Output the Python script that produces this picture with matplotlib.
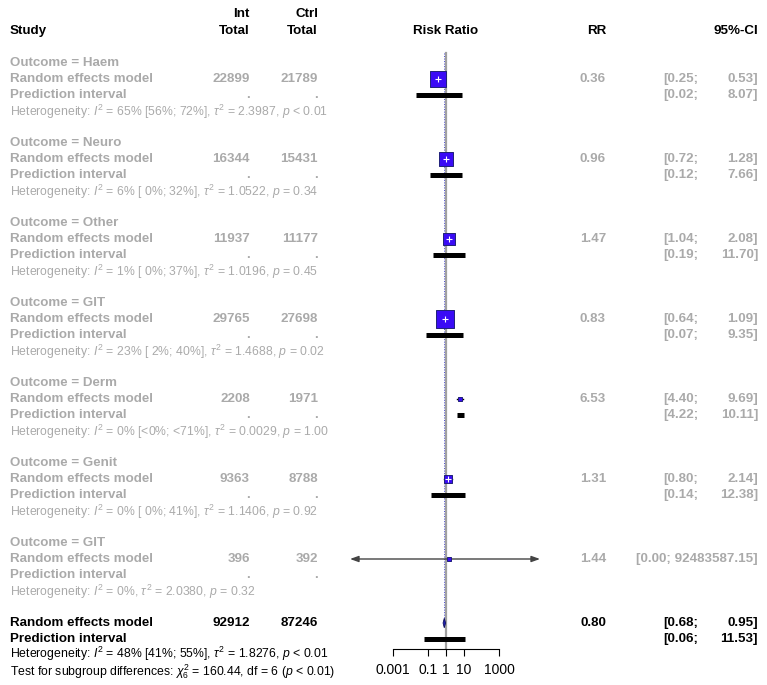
import matplotlib
matplotlib.use("Agg")
import matplotlib.pyplot as plt
import matplotlib.transforms as mtransforms
import numpy as np

plt.rcParams['font.family'] = ['Liberation Sans', 'DejaVu Sans']
plt.rcParams['mathtext.fontset'] = 'custom'
plt.rcParams['mathtext.rm'] = 'Liberation Sans'
plt.rcParams['mathtext.it'] = 'Liberation Sans:italic'
plt.rcParams['mathtext.bf'] = 'Liberation Sans:bold'

# ---------------- data ----------------
outcomes = ['Haem', 'Neuro', 'Other', 'GIT', 'Derm', 'Genit', 'GIT']
int_total = [22899, 16344, 11937, 29765, 2208, 9363, 396]
ctrl_total = [21789, 15431, 11177, 27698, 1971, 8788, 392]
rr = [0.36, 0.96, 1.47, 0.83, 6.53, 1.31, 1.44]
ci_lo = [0.25, 0.72, 1.04, 0.64, 4.40, 0.80, 0.00]
ci_hi = [0.53, 1.28, 2.08, 1.09, 9.69, 2.14, 92483587.15]
pi_lo = [0.02, 0.12, 0.19, 0.07, 4.22, 0.14, None]
pi_hi = [8.07, 7.66, 11.70, 9.35, 10.11, 12.38, None]
weights = [25.0, 19.1, 14.1, 31.6, 1.6, 7.9, 0.9]   # estimated subgroup weights (%)
i2 = ['65%', '6%', '1%', '23%', '0%', '0%', '0%']
i2_ci = ['[56%; 72%]', '[ 0%; 32%]', '[ 0%; 37%]', '[ 2%; 40%]', '[<0%; <71%]', '[ 0%; 41%]', None]
tau2 = ['2.3987', '1.0522', '1.0196', '1.4688', '0.0029', '1.1406', '2.0380']
pval = ['< 0.01', '= 0.34', '= 0.45', '= 0.02', '= 1.00', '= 0.92', '= 0.32']

overall_int = 92912
overall_ctrl = 87246
overall_rr = 0.80
overall_ci = (0.68, 0.95)
overall_pi = (0.06, 11.53)
overall_het = ('48%', '[41%; 55%]', '1.8276', '< 0.01')
subgroup_test = ('6', '160.44', '6', '< 0.01')

tick_vals = [0.001, 0.1, 1, 10, 1000]
tick_labels = ['0.001', '0.1', '1', '10', '1000']

# ---------------- layout ----------------
W, H = 767, 685
fig = plt.figure(figsize=(W / 100, H / 100), dpi=100)

ppd = 17.67          # pixels per decade
x_one = 446.0        # pixel of RR = 1
ax_l, ax_r = 350.0, 540.0
ax_bottom_px = 649.0
row0_px, row_h = 31.0, 16.0

def prow(py):
    return (py - row0_px) / row_h

ax = fig.add_axes([ax_l / W, 1 - ax_bottom_px / H, (ax_r - ax_l) / W, ax_bottom_px / H])
ax.set_xscale('log')
xlo = 10 ** ((ax_l - x_one) / ppd)
xhi = 10 ** ((ax_r - x_one) / ppd)
ax.set_xlim(xlo, xhi)
ax.set_ylim(prow(ax_bottom_px), prow(0))
ax.patch.set_alpha(0)
for s in ['top', 'left', 'right']:
    ax.spines[s].set_visible(False)
ax.spines['bottom'].set_bounds(tick_vals[0], tick_vals[-1])
ax.spines['bottom'].set_linewidth(0.8)
ax.set_yticks([])
ax.set_xticks(tick_vals)
ax.set_xticklabels(tick_labels)
ax.xaxis.set_minor_locator(matplotlib.ticker.NullLocator())
ax.tick_params(axis='x', direction='out', length=5, width=0.8, pad=5, labelsize=10)

GRAY = '#AAAAAA'
SQ_FILL = '#3A0BF5'
SQ_EDGE = '#20207A'

bt = mtransforms.blended_transform_factory(fig.transFigure, ax.transData)
def txt(xpx, r, s, ha='left', color=GRAY, weight='bold', size=9.6):
    ax.text(xpx / W, r, s, transform=bt, ha=ha, va='center', color=color,
            fontweight=weight, fontsize=size, clip_on=False)

# headers
txt(10, 0, 'Study', color='black')
txt(250, -1.05, 'Int', ha='right', color='black')
txt(250, 0, 'Total', ha='right', color='black')
txt(318, -1.05, 'Ctrl', ha='right', color='black')
txt(318, 0, 'Total', ha='right', color='black')
ax.text(1, 0, 'Risk Ratio', ha='center', va='center', fontweight='bold', fontsize=9.6)
txt(606, 0, 'RR', ha='right', color='black')
txt(758, 0, '95%-CI', ha='right', color='black')

# reference lines
overall_row = 37
ax.plot([1, 1], [prow(53), prow(ax_bottom_px)], color='#A0A0A0', lw=1.6, zorder=1)
ax.plot([overall_rr, overall_rr], [prow(53), overall_row], color='#5050D0', lw=0.7,
        ls=(0, (1.0, 1.6)), zorder=2)

het_size = 8.85
for g in range(len(outcomes)):
    base = 2 + 5 * g
    r_re, r_pi, r_het = base + 1, base + 2, base + 3
    txt(10, base, f'Outcome = {outcomes[g]}')
    txt(10, r_re, 'Random effects model')
    txt(10, r_pi, 'Prediction interval')
    txt(250, r_re, f'{int_total[g]}', ha='right')
    txt(318, r_re, f'{ctrl_total[g]}', ha='right')
    txt(250, r_pi, '.', ha='right')
    txt(318, r_pi, '.', ha='right')
    txt(606, r_re, f'{rr[g]:.2f}', ha='right')
    if ci_hi[g] > 1e6:
        txt(758, r_re, f'[{ci_lo[g]:.2f}; {ci_hi[g]:.2f}]', ha='right')
    else:
        txt(698, r_re, f'[{ci_lo[g]:.2f};', ha='right')
        txt(758, r_re, f'{ci_hi[g]:.2f}]', ha='right')
    if pi_lo[g] is not None:
        txt(698, r_pi, f'[{pi_lo[g]:.2f};', ha='right')
        txt(758, r_pi, f'{pi_hi[g]:.2f}]', ha='right')
    ci_part = f' {i2_ci[g]}' if i2_ci[g] else ''
    het = (f'Heterogeneity: $I^2$ = {i2[g]}{ci_part}, $\\tau^2$ = {tau2[g]}, '
           f'$p$ {pval[g]}')
    txt(10, r_het + 0.05, het, weight='normal', size=het_size)

    # graphics
    lo = max(ci_lo[g], xlo)
    hi = min(ci_hi[g], xhi)
    if ci_lo[g] < xlo or ci_hi[g] > xhi:
        ax.annotate('', xy=(xlo, r_re), xytext=(rr[g], r_re),
                    arrowprops=dict(arrowstyle='-|>,head_length=0.5,head_width=0.18',
                                    color='#444444', lw=1.0, shrinkA=0, shrinkB=0))
        ax.annotate('', xy=(xhi, r_re), xytext=(rr[g], r_re),
                    arrowprops=dict(arrowstyle='-|>,head_length=0.5,head_width=0.18',
                                    color='#444444', lw=1.0, shrinkA=0, shrinkB=0))
    else:
        ax.plot([lo, hi], [r_re, r_re], color='black', lw=1.0, zorder=3)
    side_px = 3.2 * np.sqrt(weights[g])
    side_pt = side_px * 72 / 100
    ax.scatter([rr[g]], [r_re], marker='s', s=side_pt ** 2, facecolor=SQ_FILL,
               edgecolor=SQ_EDGE, linewidth=0.7, zorder=4)
    if side_px > 8:
        ax.scatter([rr[g]], [r_re], marker='+', s=16, color='white', linewidth=0.8, zorder=5)
    if pi_lo[g] is not None:
        ax.plot([pi_lo[g], pi_hi[g]], [r_pi, r_pi], color='black', lw=3.6,
                solid_capstyle='butt', zorder=3)

# overall
r_re, r_pi = overall_row, overall_row + 1
txt(10, r_re, 'Random effects model', color='black')
txt(10, r_pi, 'Prediction interval', color='black')
txt(250, r_re, f'{overall_int}', ha='right', color='black')
txt(318, r_re, f'{overall_ctrl}', ha='right', color='black')
txt(606, r_re, f'{overall_rr:.2f}', ha='right', color='black')
txt(698, r_re, f'[{overall_ci[0]:.2f};', ha='right', color='black')
txt(758, r_re, f'{overall_ci[1]:.2f}]', ha='right', color='black')
txt(698, r_pi, f'[{overall_pi[0]:.2f};', ha='right', color='black')
txt(758, r_pi, f'{overall_pi[1]:.2f}]', ha='right', color='black')
txt(10, overall_row + 1.95,
    f'Heterogeneity: $I^2$ = {overall_het[0]} {overall_het[1]}, $\\tau^2$ = {overall_het[2]}, '
    f'$p$ {overall_het[3]}', color='black', weight='normal', size=het_size)
txt(10, overall_row + 3.05,
    f'Test for subgroup differences: $\\chi^2_{{{subgroup_test[0]}}}$ = {subgroup_test[1]}, '
    f'df = {subgroup_test[2]} ($p$ {subgroup_test[3]})', color='black', weight='normal', size=het_size)

dh = 0.3
ax.fill([overall_ci[0], overall_rr, overall_ci[1], overall_rr],
        [r_re, r_re - dh, r_re, r_re + dh], facecolor='#2020B0', edgecolor='#101060',
        lw=0.6, zorder=4)
ax.plot(list(overall_pi), [r_pi, r_pi], color='black', lw=3.6, solid_capstyle='butt', zorder=3)

fig.savefig('out.png', dpi=100)
